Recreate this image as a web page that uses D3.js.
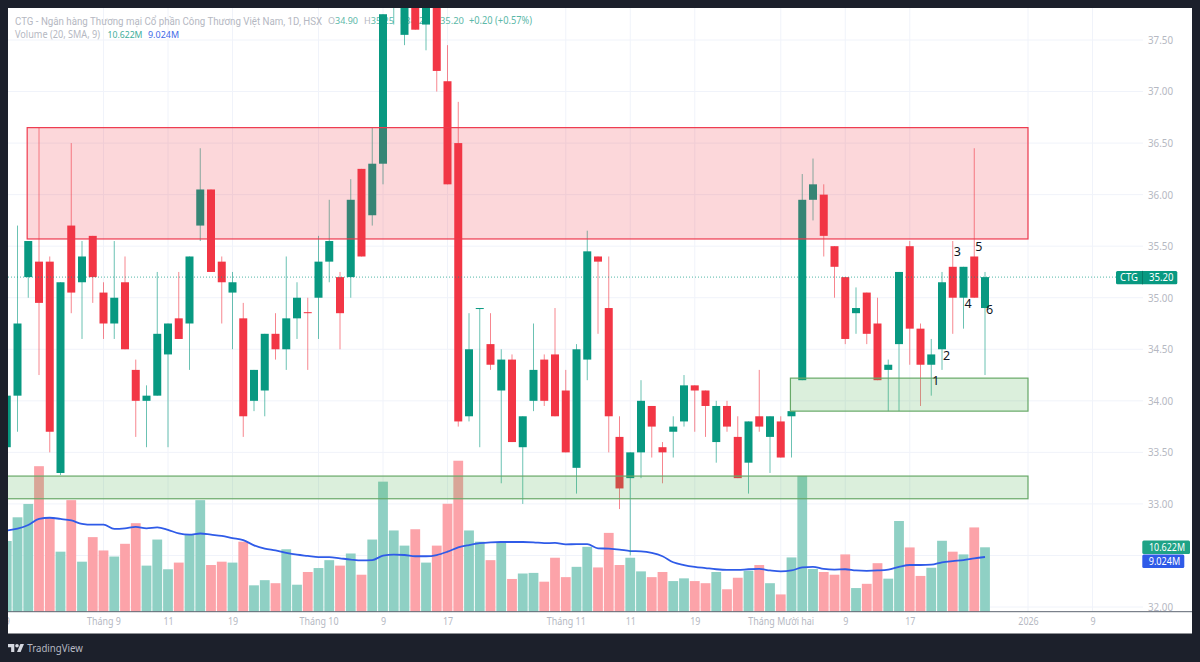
<!DOCTYPE html>
<html>
<head>
<meta charset="utf-8">
<script src="https://cdn.jsdelivr.net/npm/d3@7"></script>
<style>
    html, body { margin: 0; padding: 0; background: #1c202b; }
    svg { display: block; }
    text { font-family: "Noto Sans", sans-serif; }
</style>
</head>
<body>
<svg id="chart" width="1200" height="662"></svg>
<script>
// daily bars
var barOpen = [33.55,34.05,35.2,35.35,35.35,33.3,35.7,35.15,35.6,35.05,
    34.75,35.15,34.3,34.0,34.05,34.45,34.8,34.75,35.7,36.05,
    35.35,35.05,34.8,34.0,34.1,34.65,34.5,34.8,34.86,35.0,
    35.35,35.2,35.2,36.25,35.8,36.3,37.9,37.55,37.95,37.65,
    37.9,37.1,36.5,33.85,34.9,34.55,34.1,34.4,33.55,34.0,
    34.4,34.45,34.1,33.35,34.4,35.4,34.9,33.65,33.25,33.5,
    33.95,33.55,33.7,33.8,34.15,34.1,33.6,33.95,33.65,33.4,
    33.85,33.65,33.8,33.85,34.2,35.95,36.0,35.5,35.2,34.85,
    35.05,34.75,34.3,34.55,35.5,34.7,34.35,34.5,35.3,35.0,
    35.4,34.9];
var barClose = [34.05,34.75,35.55,34.95,33.7,35.15,35.05,35.4,35.2,34.75,
    35.0,34.5,34.0,34.05,34.65,34.75,34.6,35.4,36.05,35.25,
    35.15,35.15,33.85,34.3,34.65,34.5,34.8,35.0,34.85,35.35,
    35.55,34.85,35.95,35.4,36.3,37.75,38.2,38.1,37.6,37.95,
    37.2,36.1,33.8,34.5,34.9,34.35,34.4,33.6,33.85,34.3,
    34.0,33.85,33.5,34.5,35.45,35.35,33.85,33.15,33.5,34.0,
    33.75,33.5,33.75,34.15,34.1,33.95,33.95,33.75,33.25,33.8,
    33.75,33.85,33.45,33.9,35.95,36.1,35.6,35.3,34.6,34.9,
    34.65,34.2,34.35,35.25,34.7,34.35,34.45,35.15,35.0,35.3,
    35.0,35.2];
var barHigh = [34.05,35.7,35.55,36.65,35.4,35.15,36.5,35.55,35.6,35.15,
    35.55,35.4,34.4,34.15,35.25,34.75,35.25,35.4,36.45,36.05,
    35.4,35.25,34.95,34.3,34.65,34.85,35.4,35.15,35.0,35.6,
    35.95,35.25,36.15,36.25,36.65,37.75,38.3,38.2,38.0,38.0,
    38.0,37.45,36.9,34.85,34.9,34.85,34.5,34.45,33.85,34.75,
    34.45,34.9,34.3,34.55,35.65,35.4,35.4,33.85,33.5,34.2,
    33.95,33.6,33.85,34.25,34.15,34.1,34.0,34.0,33.85,33.8,
    34.3,33.85,33.85,33.9,36.2,36.35,36.1,35.5,35.2,35.1,
    35.05,35.0,34.4,35.25,35.55,34.75,34.6,35.25,35.55,35.3,
    36.45,35.25];
var barLow = [33.55,33.7,35.0,34.25,33.5,33.28,34.85,34.6,34.95,34.6,
    34.6,34.5,33.65,33.55,34.05,33.55,34.6,34.3,35.55,35.25,
    34.75,34.5,33.65,33.9,33.85,34.4,34.3,34.6,34.3,34.6,
    35.15,34.5,35.0,35.4,35.7,36.1,37.65,37.45,37.6,37.4,
    37.0,36.1,33.75,33.8,33.55,34.3,33.2,33.6,33.0,33.9,
    33.95,33.85,33.5,33.1,34.2,34.65,33.5,32.95,32.5,33.25,
    33.45,33.2,33.45,33.75,33.7,33.65,33.4,33.7,33.25,33.1,
    33.7,33.3,33.45,33.45,34.2,35.75,35.4,35.0,34.55,34.65,
    34.55,34.2,33.9,33.9,34.35,33.95,34.05,34.3,34.65,34.7,
    35.0,34.25];
// volume in millions
var volume = [11.66,15.57,17.77,24.0,15.6,9.9,18.4,8.25,12.3,10.1,
    9.1,11.2,14.6,7.6,11.9,7.0,8.1,12.8,18.4,7.7,
    8.25,8.1,11.55,4.35,5.2,4.7,10.3,4.45,6.55,7.2,
    8.5,7.6,9.6,6.1,11.9,21.45,13.4,10.9,13.6,8.1,
    10.9,17.8,24.9,13.4,11.55,8.5,11.4,5.4,6.3,6.4,
    4.95,8.9,5.7,7.4,10.7,7.3,13.0,7.7,8.9,6.65,
    5.7,6.55,5.05,5.5,5.05,4.7,6.55,3.7,5.6,6.75,
    7.7,4.7,2.85,8.95,22.4,7.05,6.55,6.1,9.45,3.9,
    4.6,8.0,5.45,14.96,10.6,5.9,7.25,11.7,9.9,9.45,
    13.9,10.622];
var volumeSma = [13.4,13.7,14.3,15.3,15.5,15.3,15.05,14.5,14.35,14.35,
    13.65,13.75,14.0,13.75,13.9,13.5,12.9,12.7,12.9,12.7,
    12.5,12.15,11.8,10.95,10.4,10.1,9.7,9.4,9.2,9.0,
    9.0,8.8,8.6,8.45,8.5,9.25,9.4,9.35,9.15,9.15,
    9.35,9.9,10.6,11.0,11.3,11.45,11.5,11.5,11.5,11.45,
    11.3,11.35,11.1,11.15,11.15,10.45,10.4,10.25,10.0,9.95,
    9.7,9.15,8.15,7.7,7.4,7.2,7.0,6.9,6.9,7.0,
    7.05,6.8,6.65,6.8,7.3,7.4,7.05,6.95,7.0,6.8,
    6.75,6.8,6.95,7.4,7.7,7.7,7.75,8.15,8.35,8.5,
    8.8,9.024];

var priceGrid = [32,32.5,33,33.5,34,34.5,35,35.5,36,36.5,37,37.5];
var priceLabels = [32,33,33.5,34,34.5,35,35.5,36,36.5,37,37.5];
var dateTicks = [0,9,15,21,29,35,41,52,58,64,72,78,84,95,101];
var dateLabels = ['9','Tháng 9','11','19','Tháng 10','9','17','Tháng 11','11','19','Tháng Mười hai','9','17','2026','9'];

// zones drawn on the chart: from bar, to bar, top price, bottom price
var redZone = [1.9, 95, 36.65, 35.57];
var greenZones = [[72.9, 95, 34.22, 33.9], [-1, 95, 33.27, 33.05]];

var markLabels = ['1','2','3','4','5','6'];
var markBars = [86,87,88,89,90,91];
var markPrices = [34.2,34.44,35.45,34.94,35.5,34.88];

var lastPrice = 35.2;
var lastVolume = 10.622;
var lastSma = 9.024;

var GREEN = '#089981', RED = '#f23645', BLUE = '#2f5be8', GREY = '#b5b8c2';
var left = 8, right = 1192, top_ = 8, bottom = 633.5, volBase = 611.7;

var svg = d3.select('#chart');
svg.append('rect').attr('x', left).attr('y', top_)
    .attr('width', right - left).attr('height', bottom - top_).attr('fill', '#fff');
svg.append('defs').append('clipPath').attr('id', 'pane').append('rect')
    .attr('x', left).attr('y', top_).attr('width', right - left).attr('height', bottom - top_);

var x = d3.scaleLinear().domain([0, 91]).range([6.75, 985]);
var y = d3.scaleLinear().domain([32, 37.5]).range([607, 40]);
var yVol = d3.scaleLinear().domain([0, 10.622]).range([volBase, 547.3]);

// the reference font runs narrower than Noto Sans, so squeeze to the measured width
function label(parent, str, x0, w, cy, size, fill) {
    return parent.append('text').attr('x', x0).attr('y', cy).attr('dy', '0.35em')
        .attr('font-size', size).attr('fill', fill).text(str)
        .attr('textLength', w).attr('lengthAdjust', 'spacingAndGlyphs');
}

var pane = svg.append('g').attr('clip-path', 'url(#pane)');

// grid
pane.append('g').selectAll('line').data(priceGrid).enter().append('line')
    .attr('x1', left).attr('x2', 1143)
    .attr('y1', function (d) { return y(d); }).attr('y2', function (d) { return y(d); })
    .attr('stroke', '#f0f3fa');
pane.append('g').selectAll('line').data(dateTicks).enter().append('line')
    .attr('x1', function (d) { return x(d); }).attr('x2', function (d) { return x(d); })
    .attr('y1', top_).attr('y2', volBase)
    .attr('stroke', '#f0f3fa');

// legend sits under the candles
var legend = pane.append('g');
label(legend, 'CTG - Ngân hàng Thương mại Cổ phần Công Thương Việt Nam, 1D, HSX', 15, 307, 21, 10, GREY)
    .style('font-family', 'Roboto, sans-serif');
var ohlcNames = ['O', 'H', 'L', 'C'];
var ohlcValues = ['34.90', '35.25', '34.25', '35.20'];
var ohlcX = [328, 364, 400, 434];
ohlcNames.forEach(function (name, i) {
    var t = label(legend, name, ohlcX[i], 30, 21, 9.5, GREY);
    t.append('tspan').attr('fill', '#5cb8a8').text(ohlcValues[i]);
});
label(legend, '+0.20 (+0.57%)', 469, 63, 21, 9.9, '#5cb8a8');
label(legend, 'Volume (20, SMA, 9)', 15, 85, 34.5, 10, GREY);
label(legend, '10.622M', 107.5, 35, 34.5, 9.5, '#3fae9b');
label(legend, '9.024M', 148, 31, 34.5, 9.5, '#3f6be8');

function isUp(i) { return barClose[i] >= barOpen[i]; }
var barIndex = d3.range(barOpen.length);

// volume
pane.append('g').selectAll('rect').data(barIndex).enter().append('rect')
    .attr('x', function (i) { return x(i) - 4.9; })
    .attr('width', 9.8)
    .attr('y', function (i) { return yVol(volume[i]); })
    .attr('height', function (i) { return volBase - yVol(volume[i]); })
    .attr('fill', function (i) { return isUp(i) ? '#8fd0c4' : '#fca3a9'; });

var smaLine = d3.line()
    .x(function (d, i) { return x(i); })
    .y(function (d) { return yVol(d); })
    .curve(d3.curveMonotoneX);
pane.append('path').attr('d', smaLine(volumeSma))
    .attr('fill', 'none').attr('stroke', BLUE).attr('stroke-width', 1.8);

// candles
var candle = pane.append('g').selectAll('g').data(barIndex).enter().append('g');
candle.append('line')
    .attr('x1', function (i) { return x(i); }).attr('x2', function (i) { return x(i); })
    .attr('y1', function (i) { return y(barHigh[i]); })
    .attr('y2', function (i) { return y(barLow[i]); })
    .attr('stroke-opacity', 0.6)
    .attr('stroke', function (i) { return isUp(i) ? GREEN : RED; });
candle.append('rect')
    .attr('x', function (i) { return x(i) - 4; })
    .attr('width', 8)
    .attr('y', function (i) { return y(Math.max(barOpen[i], barClose[i])); })
    .attr('height', function (i) { return Math.max(1, Math.abs(y(barOpen[i]) - y(barClose[i]))); })
    .attr('fill', function (i) { return isUp(i) ? GREEN : RED; });

// zones
function drawZone(z, fill, border) {
    pane.append('rect')
        .attr('x', x(z[0])).attr('width', x(z[1]) - x(z[0]))
        .attr('y', y(z[2])).attr('height', y(z[3]) - y(z[2]))
        .attr('fill', fill).attr('stroke', border).attr('stroke-width', 1.2);
}
drawZone(redZone, 'rgba(242,54,69,0.2)', '#ee3a4e');
greenZones.forEach(function (z) { drawZone(z, 'rgba(76,175,80,0.2)', '#68a968'); });

// numbered marks next to the last bars
pane.append('g').selectAll('text').data(markLabels).enter().append('text')
    .attr('x', function (d, i) { return x(markBars[i]) + 4.5; })
    .attr('y', function (d, i) { return y(markPrices[i]); })
    .attr('dy', '0.35em').attr('text-anchor', 'middle')
    .attr('font-size', 12.5).attr('fill', '#131722')
    .text(function (d) { return d; });

// last price line
pane.append('line').attr('x1', left).attr('x2', 1116)
    .attr('y1', y(lastPrice)).attr('y2', y(lastPrice))
    .attr('stroke', GREEN).attr('stroke-opacity', 0.7).attr('stroke-dasharray', '1 2');

// baseline
svg.append('line').attr('x1', left).attr('x2', right)
    .attr('y1', volBase).attr('y2', volBase).attr('stroke', '#5d6470');

// axes
var priceAxis = d3.axisRight(y).tickValues(priceLabels).tickFormat(d3.format('.2f')).tickSize(0).tickPadding(0);
var pa = svg.append('g').attr('transform', 'translate(1148,0)').call(priceAxis);
pa.select('.domain').remove();
pa.selectAll('text').attr('fill', GREY).attr('font-size', 10.5).attr('textLength', 25)
    .attr('lengthAdjust', 'spacingAndGlyphs').attr('font-family', '"Noto Sans", sans-serif');

var dateAxis = d3.axisBottom(x).tickValues(dateTicks)
    .tickFormat(function (d, i) { return dateLabels[i]; }).tickSize(0).tickPadding(0);
var da = pane.append('g').attr('transform', 'translate(0,617.5)').call(dateAxis);
da.select('.domain').remove();
da.selectAll('text').attr('fill', GREY).attr('font-size', 11).attr('font-family', '"Noto Sans", sans-serif')
    .attr('lengthAdjust', 'spacingAndGlyphs')
    .attr('textLength', function () { return this.getComputedTextLength() * 0.81; });

// axis tags
function tag(x0, w, cy, fill) {
    svg.append('rect').attr('x', x0).attr('y', cy - 6.7).attr('width', w).attr('height', 13.4)
        .attr('rx', 1.5).attr('fill', fill);
}
var lastY = y(lastPrice) + 0.5;
tag(1116, 61.3, lastY, GREEN);
svg.append('line').attr('x1', 1142.5).attr('x2', 1142.5)
    .attr('y1', lastY - 6.7).attr('y2', lastY + 6.7).attr('stroke', '#067a67');
label(svg, 'CTG', 1120, 18, lastY, 11, '#fff');
label(svg, d3.format('.2f')(lastPrice), 1149, 24.5, lastY, 11, '#fff');
tag(1142.3, 47.7, yVol(lastVolume), '#1fa386');
label(svg, d3.format('.3f')(lastVolume) + 'M', 1149, 36, yVol(lastVolume), 11, '#fff');
tag(1142.3, 42, 561.2, BLUE);
label(svg, d3.format('.3f')(lastSma) + 'M', 1148.7, 31.5, 561.2, 11, '#fff');

// footer logo
var logo = svg.append('g').attr('transform', 'translate(8,642.2) scale(0.45)').attr('fill', '#d5d8e0');
logo.append('path').attr('d', 'M14 22H7V11H0V4h14v18zM28 22h-8l7.5-18h8L28 22z');
logo.append('circle').attr('cx', 20).attr('cy', 8).attr('r', 4);
svg.append('text').attr('x', 27.3).attr('y', 652).attr('font-size', 11.5)
    .attr('font-family', 'Lato, sans-serif').attr('fill', '#b5b8c2')
    .attr('textLength', 55.5).attr('lengthAdjust', 'spacingAndGlyphs').text('TradingView');
</script>
</body>
</html>
